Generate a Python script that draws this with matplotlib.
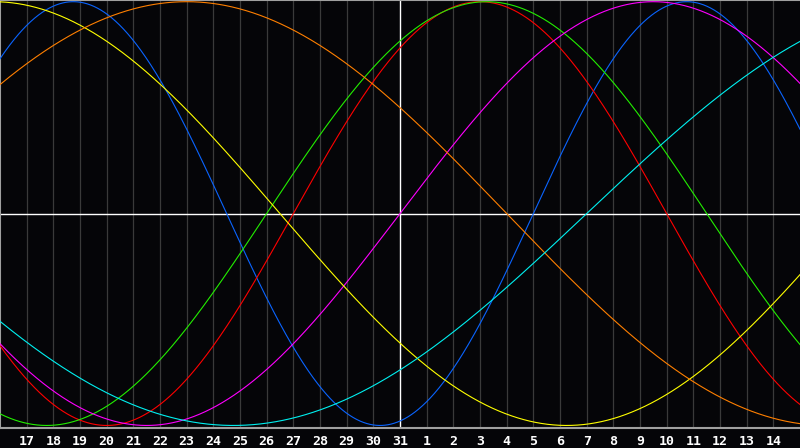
import numpy as np
import matplotlib
matplotlib.use("Agg")
import matplotlib.pyplot as plt

# ---- data ----
day_labels = [16, 17, 18, 19, 20, 21, 22, 23, 24, 25, 26, 27, 28, 29, 30, 31,
              1, 2, 3, 4, 5, 6, 7, 8, 9, 10, 11, 12, 13, 14, 15]
days_since_birth_first = 36389          # days lived at the left-hand day (16)
today_index = 15                        # day 31 is marked by the white line
cycle_names = ["physical", "emotional", "intellectual", "intuitive",
               "aesthetic", "awareness", "spiritual"]
cycle_periods = [23, 28, 33, 38, 43, 48, 53]
cycle_colors = ["#0a64ff", "#ff0000", "#22ee00", "#ff00ff",
                "#ffff00", "#ff7f00", "#00f0f0"]

# ---- figure ----
fig = plt.figure(figsize=(8.0, 4.48), dpi=100, facecolor="#050508")
ax = fig.add_axes([0.0, 1 - 428 / 448, 1.0, 428 / 448])
ax.set_facecolor("#050508")

n_days = len(day_labels) - 1
x = np.linspace(0, n_days, 1601)
t = days_since_birth_first + x

# grid lines
for i in range(1, n_days):
    if i == today_index:
        continue
    ax.axvline(i, color="#3a3a3a", lw=0.9, zorder=1)
ax.axvline(today_index, color="#ffffff", lw=1.0, zorder=2)
ax.axhline(0, color="#ffffff", lw=1.0, zorder=2)

for name, p, c in zip(cycle_names, cycle_periods, cycle_colors):
    ax.plot(x, np.sin(2 * np.pi * t / p), color=c, lw=0.8, zorder=3,
            label=name)

ax.set_xlim(0, n_days)
ax.set_ylim(-1.012, 1.008)

ax.set_xticks(range(1, n_days))
ax.set_xticklabels([str(d) for d in day_labels[1:n_days]],
                   color="white", fontsize=9.5, fontweight="bold",
                   family="DejaVu Sans Mono")
ax.tick_params(axis="x", length=0, pad=5)
ax.set_yticks([])

for s in ["left", "top", "bottom"]:
    ax.spines[s].set_color("#a0a0a0")
    ax.spines[s].set_linewidth(1.5)
ax.spines["right"].set_visible(False)

fig.savefig("out.png", dpi=100, facecolor=fig.get_facecolor())
